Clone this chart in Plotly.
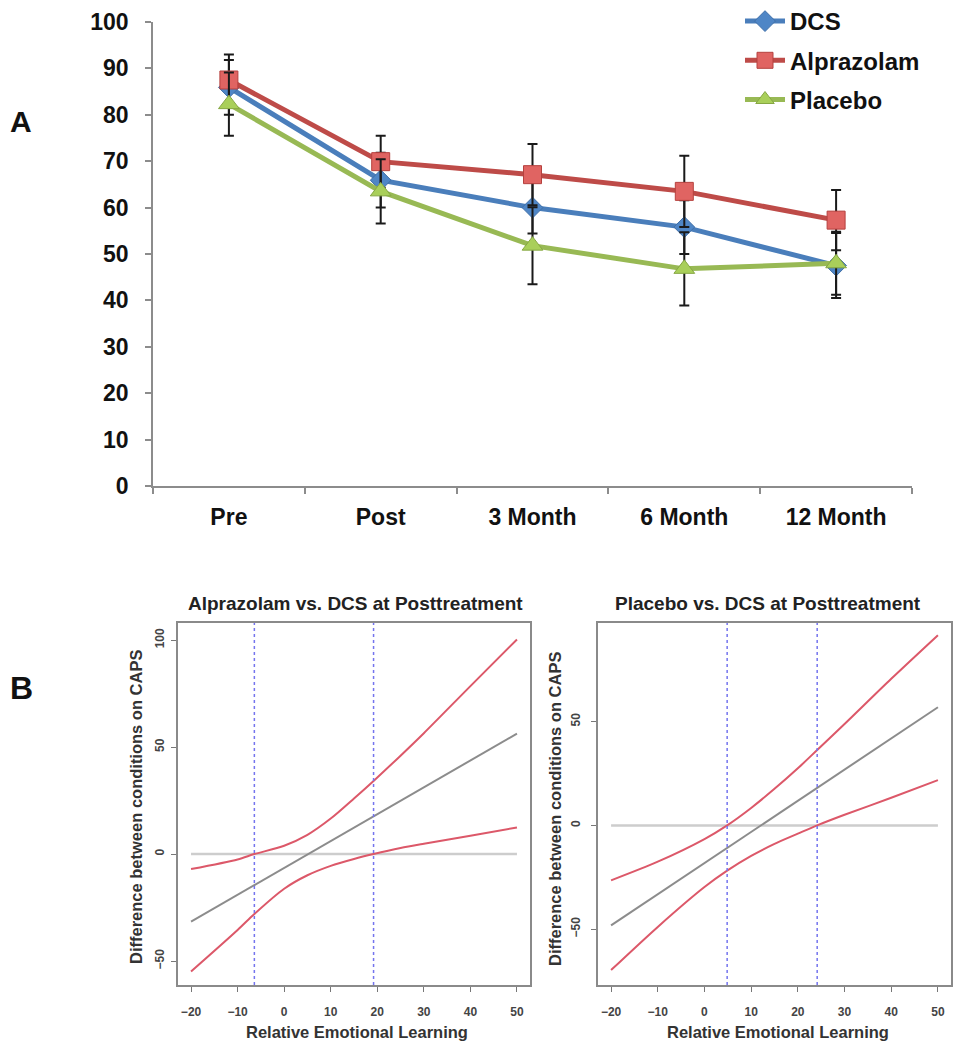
import plotly.graph_objects as go

# ---------------- Panel A data ----------------
categories = ["Pre", "Post", "3 Month", "6 Month", "12 Month"]
dcs_vals = [85.9, 65.9, 60.0, 55.8, 47.5]
dcs_err = [5.9, 5.9, 5.6, 5.8, 7.0]
alp_vals = [87.5, 69.9, 67.1, 63.5, 57.3]
alp_err = [5.5, 5.6, 6.6, 7.7, 6.5]
pla_vals = [82.3, 63.5, 51.8, 46.8, 48.0]
pla_err = [6.8, 6.9, 8.3, 7.9, 6.8]
a_yticks = [0, 10, 20, 30, 40, 50, 60, 70, 80, 90, 100]

# ---------------- Panel B data ----------------
b_xticks = [-20, -10, 0, 10, 20, 30, 40, 50]

# Left: Alprazolam vs. DCS
left_x = [-20, -10, -6.4, 0, 5, 10, 15, 19.2, 25, 30, 40, 50]
left_upper = [-7.0, -2.5, 0.0, 3.9, 9.0, 16.6, 26.0, 34.2, 46.0, 56.5, 78.5, 100.3]
left_lower = [-54.9, -35.5, -28.0, -16.2, -9.9, -5.5, -2.3, 0.0, 2.8, 4.8, 8.6, 12.4]
left_mid_x = [-20, 50]
left_mid = [-31.6, 56.3]
left_jn = [-6.4, 19.2]
left_yticks = [-50, 0, 50, 100]

# Right: Placebo vs. DCS
right_x = [-20, -10, 0, 4.86, 10, 15, 20, 24.14, 30, 40, 50]
right_upper = [-26.5, -17.5, -6.6, 0.0, 8.4, 17.6, 27.5, 36.3, 48.8, 70.6, 91.6]
right_lower = [-69.7, -48.9, -29.7, -21.8, -14.7, -8.9, -4.0, 0.0, 5.1, 13.3, 21.8]
right_mid_x = [-20, 50]
right_mid = [-48.2, 56.9]
right_jn = [4.86, 24.14]
right_yticks = [-50, 0, 50]

zero_x = [-20, 50]
zero_y = [0, 0]

W, H = 965, 1050
OFF = 8  # default page body margin


def px_x(p):
    return (p - OFF) / W


def px_y(p):
    return 1 - (p - OFF) / H


fig = go.Figure()

series = [
    ("DCS", dcs_vals, dcs_err, "#4a7ebb", "#4f86c6", "#3f6fa8", "diamond", 16),
    ("Alprazolam", alp_vals, alp_err, "#be4b48", "#e06462", "#b5413e", "square", 18),
    ("Placebo", pla_vals, pla_err, "#98b954", "#a9cf5a", "#86a743", "triangle-up", 18),
]
for i, (name, vals, err, lc, mc, mlc, sym, ms) in enumerate(series):
    fig.add_trace(go.Scatter(
        x=categories, y=vals, name=name, mode="lines+markers",
        line=dict(color=lc, width=5),
        marker=dict(symbol=sym, size=ms, color=mc, line=dict(color=mlc, width=1)),
        error_y=dict(type="data", array=err, visible=True, color="#1a1a1a",
                     thickness=2, width=5),
        legendgroup=name, xaxis="x", yaxis="y",
    ))

red = "#dc5869"
grayl = "#8c8c8c"
for (xs, up, lo, mx, my, jn, xa, ya) in [
    (left_x, left_upper, left_lower, left_mid_x, left_mid, left_jn, "x2", "y2"),
    (right_x, right_upper, right_lower, right_mid_x, right_mid, right_jn, "x3", "y3"),
]:
    fig.add_trace(go.Scatter(x=zero_x, y=zero_y, mode="lines", showlegend=False,
                             line=dict(color="#cdcdcd", width=2.5), xaxis=xa, yaxis=ya))
    fig.add_trace(go.Scatter(x=mx, y=my, mode="lines", showlegend=False,
                             line=dict(color=grayl, width=2), xaxis=xa, yaxis=ya))
    fig.add_trace(go.Scatter(x=xs, y=up, mode="lines", showlegend=False,
                             line=dict(color=red, width=2, shape="spline", smoothing=0.8),
                             xaxis=xa, yaxis=ya))
    fig.add_trace(go.Scatter(x=xs, y=lo, mode="lines", showlegend=False,
                             line=dict(color=red, width=2, shape="spline", smoothing=0.8),
                             xaxis=xa, yaxis=ya))
    for v in jn:
        fig.add_shape(type="line", xref=xa, yref=ya + " domain", x0=v, x1=v, y0=0, y1=1,
                      line=dict(color="#7474ee", width=1.5, dash="dot"))

tickfont_a = dict(family="Liberation Sans, Arial", size=23, color="#111", weight="bold")
b_tickfont = dict(family="Liberation Sans, Arial", size=12, color="#444", weight="bold")

common_b = dict(ticks="outside", ticklen=5, tickcolor="#777", showline=True, mirror=True,
                linecolor="#8a8a8a", linewidth=2, showgrid=False, zeroline=False,
                tickfont=b_tickfont, automargin=False, fixedrange=True,
                ticklabeloverflow="allow")

fig.update_layout(
    width=W, height=H,
    margin=dict(l=0, r=0, t=0, b=0, autoexpand=False),
    paper_bgcolor="white", plot_bgcolor="white",
    showlegend=True,
    legend=dict(x=px_x(740), y=px_y(-1), xanchor="left", yanchor="top",
                font=dict(family="Liberation Sans, Arial", size=24, color="#111", weight="bold"),
                tracegroupgap=5, itemwidth=40, bgcolor="rgba(0,0,0,0)"),
    xaxis=dict(domain=[px_x(153), px_x(912)], anchor="y", type="category",
               range=[-0.5, 4.5], tickson="boundaries", ticks="outside", ticklen=6,
               tickcolor="#8c8c8c", tickwidth=1.5, showline=True, linecolor="#8c8c8c",
               linewidth=1.5, showgrid=False, zeroline=False, tickfont=tickfont_a,
               ticklabelstandoff=10, automargin=False, fixedrange=True,
               ticklabeloverflow="allow"),
    yaxis=dict(domain=[px_y(486), px_y(22)], anchor="x", range=[0, 100],
               tickvals=a_yticks, ticks="outside", ticklen=6, tickcolor="#8c8c8c",
               tickwidth=1.5, showline=True, linecolor="#8c8c8c", linewidth=1.5,
               showgrid=False, zeroline=False, tickfont=tickfont_a,
               ticklabelstandoff=12, automargin=False, fixedrange=True,
               ticklabeloverflow="allow"),
    xaxis2=dict(domain=[px_x(178), px_x(530)], anchor="y2", range=[-22.8, 52.8],
                tickvals=b_xticks, ticklabelstandoff=10, **common_b),
    yaxis2=dict(domain=[px_y(985), px_y(623)], anchor="x2", range=[-61.2, 108.0],
                tickvals=left_yticks, tickangle=-90, ticklabelstandoff=2, **common_b),
    xaxis3=dict(domain=[px_x(598), px_x(951)], anchor="y3", range=[-22.8, 52.8],
                tickvals=b_xticks, ticklabelstandoff=10, **common_b),
    yaxis3=dict(domain=[px_y(985), px_y(623)], anchor="x3", range=[-76.9, 97.5],
                tickvals=right_yticks, tickangle=-90, ticklabelstandoff=6, **common_b),
)

title_font = dict(family="Liberation Sans, Arial", size=19, color="#222", weight="bold")
lab_font = dict(family="Liberation Sans, Arial", size=16.5, color="#333", weight="bold")
ann = [
    dict(text="A", x=px_x(8), y=px_y(122), xanchor="left", yanchor="middle",
         font=dict(family="Liberation Sans, Arial", size=30, color="#111", weight="bold")),
    dict(text="B", x=px_x(8), y=px_y(688), xanchor="left", yanchor="middle",
         font=dict(family="Liberation Sans, Arial", size=32, color="#111", weight="bold")),
    dict(text="Alprazolam vs. DCS at Posttreatment", x=px_x(355), y=px_y(603),
         xanchor="center", yanchor="middle", font=title_font),
    dict(text="Placebo vs. DCS at Posttreatment", x=px_x(768), y=px_y(603),
         xanchor="center", yanchor="middle", font=title_font),
    dict(text="Relative Emotional Learning", x=px_x(357), y=px_y(1032),
         xanchor="center", yanchor="middle", font=lab_font),
    dict(text="Relative Emotional Learning", x=px_x(778), y=px_y(1032),
         xanchor="center", yanchor="middle", font=lab_font),
    dict(text="Difference between conditions on CAPS", x=px_x(136), y=px_y(807),
         xanchor="center", yanchor="middle", textangle=-90, font=lab_font),
    dict(text="Difference between conditions on CAPS", x=px_x(555), y=px_y(809),
         xanchor="center", yanchor="middle", textangle=-90, font=lab_font),
]
for a in ann:
    a.update(xref="paper", yref="paper", showarrow=False)
fig.update_layout(annotations=ann)

fig.write_html("out.html")
